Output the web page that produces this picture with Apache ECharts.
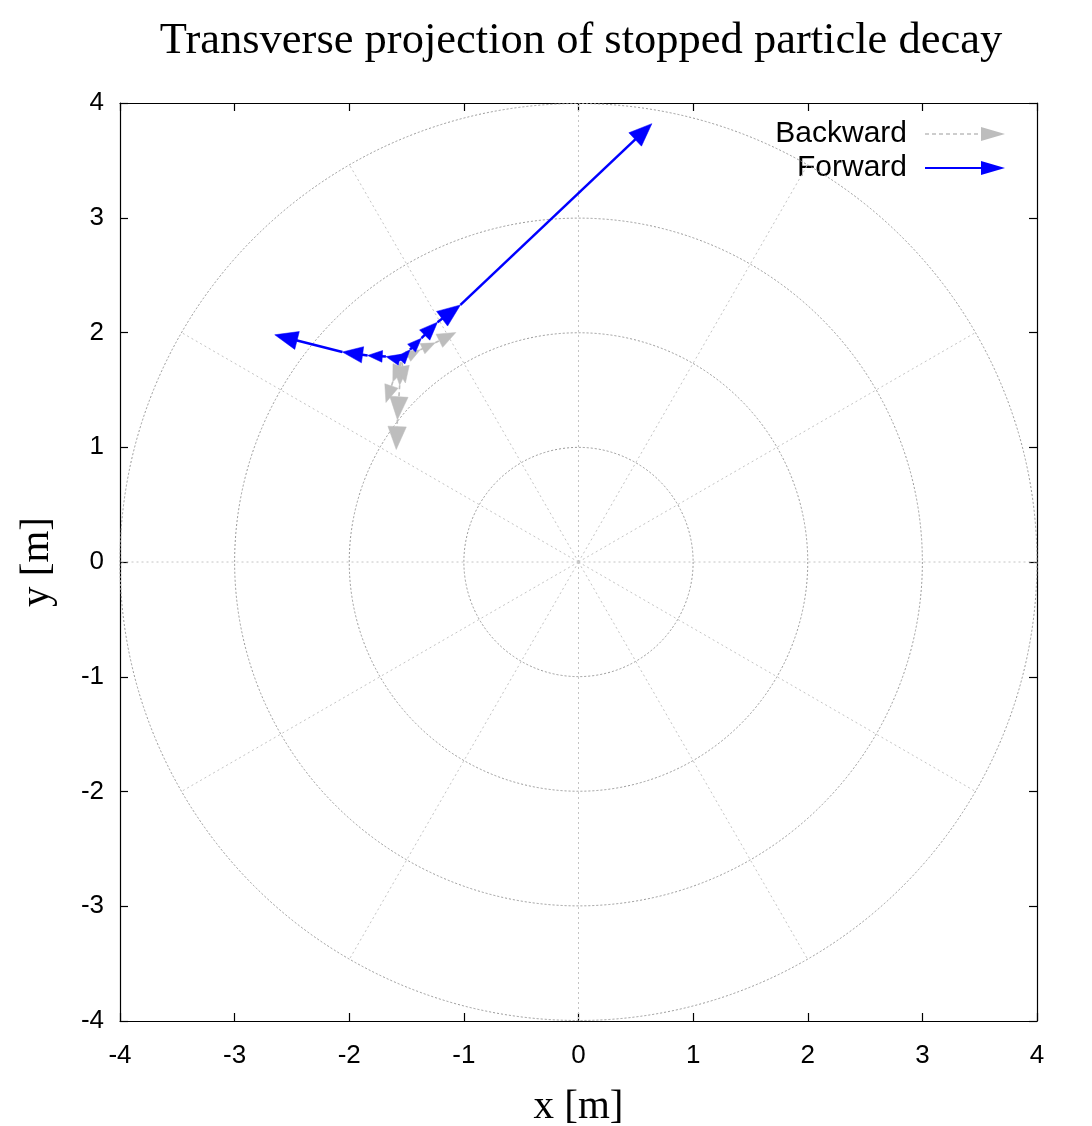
<!DOCTYPE html>
<html>
<head>
<meta charset="utf-8">
<script src="https://cdn.jsdelivr.net/npm/echarts@6/dist/echarts.min.js"></script>
<style>html,body{margin:0;padding:0;background:#fff;overflow:hidden}#c{width:1092px;height:1126px}</style>
</head>
<body>
<div id="c"></div>
<script>
// ---- data ----
const axisTicks = [-4, -3, -2, -1, 0, 1, 2, 3, 4];
const ringRadii = [1, 2, 3, 4];
const spokeAngles = [0, 30, 60, 90, 120, 150, 180, 210, 240, 270, 300, 330];
const spokeLength = 4;
// Forward trajectories (blue), points in metres
const forwardTrackA = [[-1.55, 1.76], [-1.47, 1.85], [-1.37, 1.95], [-1.23, 2.09], [-1.03, 2.24], [0.64, 3.82]];
const forwardTrackB = [[-1.55, 1.76], [-1.68, 1.79], [-1.84, 1.80], [-2.06, 1.83], [-2.65, 1.98]];
// Backward trajectories (grey)
const backwardTrackA = [[-1.51, 1.78], [-1.38, 1.85], [-1.25, 1.91], [-1.07, 2.00]];
const backwardTrackB = [[-1.55, 1.74], [-1.56, 1.54], [-1.58, 1.24], [-1.59, 0.98]];
const backwardTrackC = [[-1.55, 1.74], [-1.62, 1.57], [-1.68, 1.39]];
const backwardTrackD = [[-1.54, 1.74], [-1.51, 1.56]];

function segments(tracks) {
  const out = [];
  tracks.forEach(t => {
    for (let i = 0; i < t.length - 1; i++) out.push([t[i][0], t[i][1], t[i + 1][0], t[i + 1][1]]);
  });
  return out;
}
const forwardSegs = segments([forwardTrackA, forwardTrackB]);
const backwardSegs = segments([backwardTrackA, backwardTrackB, backwardTrackC, backwardTrackD]);

function arrowRenderer(color, width, dash) {
  return function (params, api) {
    const p0 = api.coord([api.value(0), api.value(1)]);
    const p1 = api.coord([api.value(2), api.value(3)]);
    const dx = p1[0] - p0[0], dy = p1[1] - p0[1];
    const len = Math.sqrt(dx * dx + dy * dy) || 1;
    const ux = dx / len, uy = dy / len;
    const hl = Math.min(23, Math.max(14, len * 0.8));
    const hw = hl * 0.4;
    const bx = p1[0] - ux * hl, by = p1[1] - uy * hl;
    return {
      type: 'group',
      children: [
        { type: 'line', shape: { x1: p0[0], y1: p0[1], x2: bx + ux * 2, y2: by + uy * 2 },
          style: { stroke: color, lineWidth: width, lineDash: dash } },
        { type: 'polygon', shape: { points: [[p1[0], p1[1]], [bx - uy * hw, by + ux * hw], [bx + uy * hw, by - ux * hw]] },
          style: { fill: color, stroke: color, lineWidth: 0.5 } }
      ]
    };
  };
}

const chart = echarts.init(document.getElementById('c'), null, { renderer: 'canvas', width: 1092, height: 1126 });
const tickFont = { color: '#000', fontSize: 26, fontFamily: 'Liberation Sans, Arial, sans-serif' };
const serif = 'Liberation Serif, Times New Roman, serif';
function mkX(pos, labels) {
  return {
    type: 'value', position: pos, min: -4, max: 4, interval: 1,
    axisLine: { show: true, onZero: false, lineStyle: { color: '#000', width: 1.2 } },
    axisTick: { show: true, inside: true, length: 8, lineStyle: { color: '#000', width: 1.2 } },
    axisLabel: Object.assign({ show: labels, margin: 22 }, tickFont),
    splitLine: { show: false },
    name: labels ? 'x [m]' : '', nameLocation: 'middle', nameGap: 66,
    nameTextStyle: { fontSize: 41, fontFamily: serif, color: '#000' }
  };
}
function mkY(pos, labels) {
  return {
    type: 'value', position: pos, min: -4, max: 4, interval: 1,
    axisLine: { show: true, onZero: false, lineStyle: { color: '#000', width: 1.2 } },
    axisTick: { show: true, inside: true, length: 8, lineStyle: { color: '#000', width: 1.2 } },
    axisLabel: Object.assign({ show: labels, margin: 16 }, tickFont),
    splitLine: { show: false },
    name: labels ? 'y [m]' : '', nameLocation: 'middle', nameGap: 62, nameRotate: 90,
    nameTextStyle: { fontSize: 41, fontFamily: serif, color: '#000' }
  };
}

const legendFont = '30px "Liberation Sans", Arial, sans-serif';
chart.setOption({
  animation: false,
  backgroundColor: '#fff',
  title: {
    text: 'Transverse projection of stopped particle decay',
    left: 576, top: 14, textAlign: 'center',
    textStyle: { fontSize: 44.5, fontWeight: 'normal', color: '#000', fontFamily: serif }
  },
  grid: { left: 120, width: 917, top: 103, height: 918, containLabel: false, outerBoundsMode: 'none' },
  xAxis: [mkX('bottom', true), mkX('top', false)],
  yAxis: [mkY('left', true), mkY('right', false)],
  series: [
    {
      type: 'custom', name: 'rings', silent: true, z: 1,
      data: ringRadii.map(r => [r]),
      renderItem: function (params, api) {
        const c = api.coord([0, 0]);
        const r = api.size([api.value(0), 0])[0];
        return { type: 'circle', shape: { cx: c[0], cy: c[1], r: r },
          style: { fill: 'none', stroke: '#9a9a9a', lineWidth: 1, lineDash: [2, 2] } };
      }
    },
    {
      type: 'custom', name: 'spokes', silent: true, z: 1,
      data: spokeAngles.map(a => [a]),
      renderItem: function (params, api) {
        const a = api.value(0) * Math.PI / 180;
        const c = api.coord([0, 0]);
        const e = api.coord([spokeLength * Math.cos(a), spokeLength * Math.sin(a)]);
        return { type: 'line', shape: { x1: c[0], y1: c[1], x2: e[0], y2: e[1] },
          style: { stroke: '#c4c4c4', lineWidth: 1, lineDash: [2, 3] } };
      }
    },
    {
      type: 'custom', name: 'Backward', z: 3, clip: false,
      data: backwardSegs,
      renderItem: arrowRenderer('#bdbdbd', 1.6, [4, 3])
    },
    {
      type: 'custom', name: 'Forward', z: 4, clip: false,
      data: forwardSegs,
      renderItem: arrowRenderer('#0000ff', 2.5, null)
    }
  ],
  graphic: [
    { type: 'text', right: 1092 - 907, top: 119, style: { text: 'Backward', font: legendFont, fill: '#000' } },
    { type: 'line', shape: { x1: 925, y1: 134, x2: 985, y2: 134 }, style: { stroke: '#bdbdbd', lineWidth: 1.5, lineDash: [4, 3] } },
    { type: 'polygon', shape: { points: [[1005, 134], [981, 127], [981, 141]] }, style: { fill: '#bdbdbd' } },
    { type: 'text', right: 1092 - 907, top: 153, style: { text: 'Forward', font: legendFont, fill: '#000' } },
    { type: 'line', shape: { x1: 925, y1: 168, x2: 985, y2: 168 }, style: { stroke: '#0000ff', lineWidth: 2 } },
    { type: 'polygon', shape: { points: [[1005, 168], [981, 161], [981, 175]] }, style: { fill: '#0000ff' } }
  ]
});
</script>
</body>
</html>
